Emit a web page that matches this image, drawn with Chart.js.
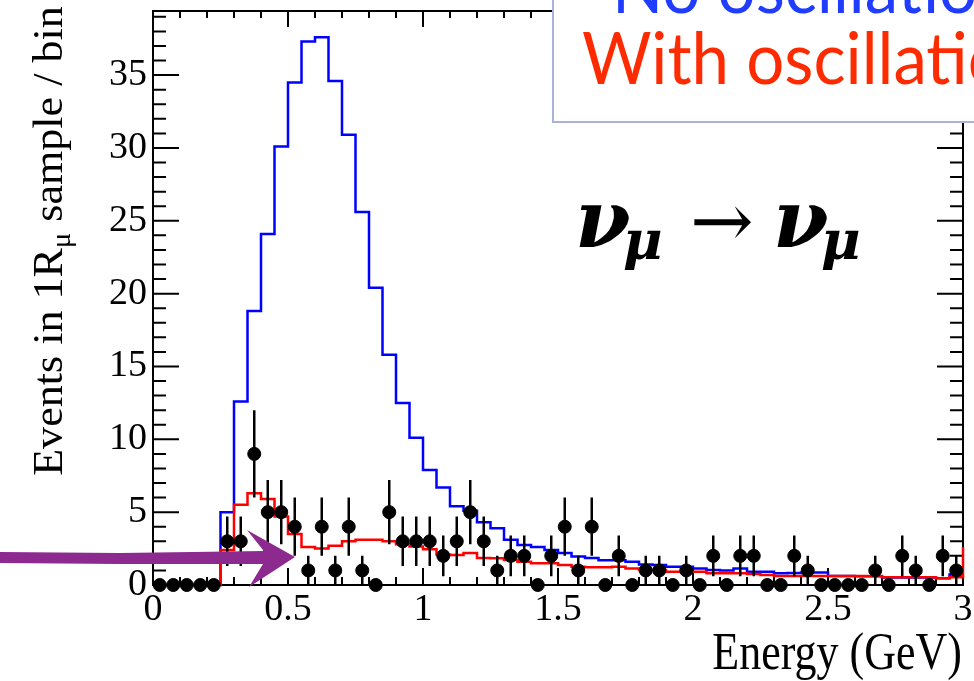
<!DOCTYPE html>
<html>
<head>
<meta charset="utf-8">
<script src="https://cdn.jsdelivr.net/npm/chart.js@4.4.1/dist/chart.umd.min.js"></script>
<style>
  html, body { margin: 0; padding: 0; background: #fff; }
  #wrap { width: 974px; height: 681px; }
</style>
</head>
<body>
<div id="wrap"><canvas id="chart" width="974" height="681"></canvas></div>
<script>
// bins of 0.05 GeV, left edges
const binLow = [0.00, 0.05, 0.10, 0.15, 0.20, 0.25, 0.30, 0.35, 0.40, 0.45,
  0.50, 0.55, 0.60, 0.65, 0.70, 0.75, 0.80, 0.85, 0.90, 0.95,
  1.00, 1.05, 1.10, 1.15, 1.20, 1.25, 1.30, 1.35, 1.40, 1.45,
  1.50, 1.55, 1.60, 1.65, 1.70, 1.75, 1.80, 1.85, 1.90, 1.95,
  2.00, 2.05, 2.10, 2.15, 2.20, 2.25, 2.30, 2.35, 2.40, 2.45,
  2.50, 2.55, 2.60, 2.65, 2.70, 2.75, 2.80, 2.85, 2.90, 2.95];
const binHigh = 3.0;

// expectation without oscillation (blue)
const noOsc = [0, 0, 0, 0, 0, 5.0, 12.6, 18.8, 24.1, 30.1,
  34.5, 37.3, 37.6, 34.6, 30.9, 25.6, 20.4, 15.8, 12.5, 10.1,
  7.9, 6.7, 5.4, 5.1, 4.3, 3.9, 3.1, 2.75, 2.6, 2.4,
  2.2, 1.95, 1.85, 1.7, 1.7, 1.6, 1.4, 1.37, 1.26, 1.26,
  1.14, 1.03, 1.0, 1.14, 0.91, 0.91, 0.8, 0.82, 0.85, 0.85,
  0.62, 0.62, 0.6, 0.6, 0.52, 0.52, 0.52, 0.52, 0.46, 0.72];

// expectation with oscillation (red)
const withOsc = [0, 0, 0, 0, 0, 2.4, 5.5, 6.3, 5.9, 4.7,
  3.5, 2.6, 2.5, 2.7, 3.0, 3.1, 3.1, 3.0, 2.8, 2.65,
  2.45, 2.1, 2.06, 2.2, 1.85, 1.83, 1.71, 1.6, 1.5, 1.5,
  1.37, 1.26, 1.21, 1.21, 1.26, 1.14, 1.03, 1.03, 0.91, 0.91,
  0.91, 0.8, 0.8, 0.8, 0.76, 0.69, 0.62, 0.62, 0.62, 0.62,
  0.62, 0.62, 0.62, 0.62, 0.53, 0.53, 0.53, 0.53, 0.46, 0.53];
const withOscOverflow = 2.6;

// observed events per bin and their error bars
const dataCounts = [0, 0, 0, 0, 0, 3, 3, 9, 5, 5,
  4, 1, 4, 1, 4, 1, 0, 5, 3, 3,
  3, 2, 3, 5, 3, 1, 2, 2, 0, 2,
  4, 1, 4, 0, 2, 0, 1, 1, 0, 1,
  0, 2, 0, 2, 2, 0, 0, 2, 1, 0,
  0, 0, 0, 1, 0, 2, 1, 0, 2, 1];
const dataErr = [0, 0, 0, 0, 0, 1.7, 1.7, 3.0, 2.2, 2.2,
  2.0, 1.0, 2.0, 1.0, 2.0, 1.0, 0, 2.2, 1.7, 1.7,
  1.7, 1.4, 1.7, 2.2, 1.7, 1.0, 1.4, 1.4, 0, 1.4,
  2.0, 1.0, 2.0, 0, 1.4, 0, 1.0, 1.0, 0, 1.0,
  0, 1.4, 0, 1.4, 1.4, 0, 0, 1.4, 1.0, 0,
  0, 0, 0, 1.0, 0, 1.4, 1.0, 0, 1.4, 1.0];

const xTicks = [0, 0.5, 1, 1.5, 2, 2.5, 3];
const xTickLabels = ['0', '0.5', '1', '1.5', '2', '2.5', '3'];
const yTicks = [0, 5, 10, 15, 20, 25, 30, 35];
const yTickLabels = ['0', '5', '10', '15', '20', '25', '30', '35'];
const legendLabels = ['No oscillation', 'With oscillation'];

function histPoints(vals, lastY) {
  const pts = binLow.map((x, i) => ({ x: x, y: vals[i] }));
  pts.push({ x: binHigh, y: lastY });
  return pts;
}
const dataPoints = binLow.map((x, i) => ({
  x: (x + (i + 1 < binLow.length ? binLow[i + 1] : binHigh)) / 2,
  y: dataCounts[i]
}));

// box + inward ticks, drawn under the histograms
const frame = {
  id: 'frame',
  beforeDatasetsDraw(chart) {
    const { ctx, chartArea: a, scales: { x, y } } = chart;
    ctx.save();
    ctx.strokeStyle = '#000';
    ctx.lineWidth = 2;
    ctx.strokeRect(a.left, a.top, a.right - a.left, a.bottom - a.top);
    ctx.beginPath();
    for (let i = 0; i <= 39; i++) {
      const py = y.getPixelForValue(i);
      const len = i % 5 === 0 ? 26 : 13;
      ctx.moveTo(a.left, py); ctx.lineTo(a.left + len, py);
      ctx.moveTo(a.right, py); ctx.lineTo(a.right - len, py);
    }
    for (let i = 0; i <= 30; i++) {
      const px = x.getPixelForValue(i / 10);
      const major = i % 5 === 0;
      ctx.moveTo(px, a.bottom); ctx.lineTo(px, a.bottom - (major ? 17 : 8));
      ctx.moveTo(px, a.top); ctx.lineTo(px, a.top + (major ? 16 : 7));
    }
    ctx.stroke();
    ctx.restore();
  }
};

// error bars on the data points
const errorBars = {
  id: 'errorBars',
  afterDatasetsDraw(chart) {
    const { ctx, scales: { x, y } } = chart;
    ctx.save();
    ctx.strokeStyle = '#000';
    ctx.lineWidth = 2.5;
    ctx.beginPath();
    dataPoints.forEach((p, i) => {
      if (!dataErr[i]) return;
      const px = x.getPixelForValue(p.x);
      ctx.moveTo(px, y.getPixelForValue(p.y + dataErr[i]));
      ctx.lineTo(px, y.getPixelForValue(p.y - dataErr[i]));
    });
    ctx.stroke();
    ctx.restore();
  }
};

// titles, legend box, annotation and the purple arrow
const decorations = {
  id: 'decorations',
  afterDraw(chart) {
    const ctx = chart.ctx;
    ctx.save();

    // y title, rotated, with subscript mu
    ctx.save();
    ctx.translate(62, 241);
    ctx.rotate(-Math.PI / 2);
    ctx.scale(1.05, 1);
    ctx.fillStyle = '#000';
    ctx.textBaseline = 'alphabetic';
    const big = '42px "Liberation Serif"', small = '27px "Liberation Serif"';
    const parts = [['Events in 1R', big, 0], ['\u03bc', small, 8], [' sample / bin', big, 0]];
    let total = 0;
    parts.forEach(p => { ctx.font = p[1]; p.push(ctx.measureText(p[0]).width); total += p[3]; });
    let cx = -total / 2;
    parts.forEach(p => { ctx.font = p[1]; ctx.fillText(p[0], cx, p[2]); cx += p[3]; });
    ctx.restore();

    // x title
    ctx.save();
    ctx.translate(962, 669);
    ctx.scale(1, 1.2);
    ctx.font = '44px "Liberation Serif"';
    ctx.fillStyle = '#000';
    ctx.textAlign = 'right';
    ctx.fillText('Energy (GeV)', 0, 0);
    ctx.restore();

    // legend box
    ctx.fillStyle = '#fff';
    ctx.fillRect(553, -10, 440, 132);
    ctx.strokeStyle = '#aab2d6';
    ctx.lineWidth = 2;
    ctx.strokeRect(553, -10, 440, 132);
    ctx.textBaseline = 'alphabetic';
    ctx.save();
    ctx.translate(0, 0);
    ctx.scale(0.96, 1.02);
    ctx.font = '70px Lato';
    ctx.fillStyle = '#1f3cff';
    ctx.fillText(legendLabels[0], 612 / 0.96, 13 / 1.02);
    ctx.fillStyle = '#ff2b00';
    ctx.fillText(legendLabels[1], 582 / 0.96, 84 / 1.02);
    ctx.restore();

    // nu_mu -> nu_mu
    ctx.fillStyle = '#000';
    ctx.font = 'bold italic 80px "DejaVu Serif"';
    ctx.fillText('\u03bd', 575, 247);
    ctx.fillText('\u03bd', 773, 247);
    ctx.font = 'bold italic 54px "DejaVu Serif"';
    ctx.fillText('\u03bc', 623, 259);
    ctx.fillText('\u03bc', 821, 259);
    ctx.font = '76px "DejaVu Serif"';
    ctx.fillText('\u2192', 690, 247);

    // purple hand-drawn arrow
    ctx.fillStyle = '#8c2a8f';
    ctx.beginPath();
    ctx.moveTo(0, 552); ctx.lineTo(120, 553); ctx.lineTo(264, 551);
    ctx.lineTo(264, 564); ctx.lineTo(120, 564); ctx.lineTo(0, 563);
    ctx.closePath();
    ctx.fill();
    ctx.beginPath();
    ctx.moveTo(247, 530); ctx.lineTo(295, 557); ctx.lineTo(249, 587);
    ctx.lineTo(263, 564); ctx.lineTo(263, 550);
    ctx.closePath();
    ctx.fill();

    ctx.restore();
  }
};

new Chart(document.getElementById('chart'), {
  type: 'scatter',
  data: {
    datasets: [
      {
        label: 'Data',
        data: dataPoints,
        pointRadius: 6.5,
        pointHoverRadius: 6.5,
        backgroundColor: '#000',
        borderColor: '#000',
        clip: false,
        order: 0
      },
      {
        label: legendLabels[1],
        data: histPoints(withOsc, withOscOverflow),
        showLine: true,
        stepped: true,
        borderColor: '#ff0000',
        borderWidth: 2.5,
        pointRadius: 0,
        clip: false,
        order: 1
      },
      {
        label: legendLabels[0],
        data: histPoints(noOsc, noOsc[noOsc.length - 1]),
        showLine: true,
        stepped: true,
        borderColor: '#0000ff',
        borderWidth: 2.5,
        pointRadius: 0,
        clip: false,
        order: 2
      }
    ]
  },
  options: {
    responsive: false,
    animation: false,
    devicePixelRatio: 1,
    layout: { padding: { top: 11, right: 11, left: 0, bottom: 0 } },
    plugins: { legend: { display: false }, tooltip: { enabled: false } },
    scales: {
      x: {
        type: 'linear',
        min: 0,
        max: 3,
        grid: { display: false, drawTicks: false },
        border: { display: false },
        afterBuildTicks: s => { s.ticks = xTicks.map(v => ({ value: v })); },
        afterFit: s => { s.height = 96; s.paddingLeft = 0; s.paddingRight = 0; },
        ticks: {
          autoSkip: false,
          maxRotation: 0,
          padding: 2,
          color: '#000',
          font: { family: 'Liberation Serif', size: 38 },
          callback: (v, i) => xTickLabels[i]
        }
      },
      y: {
        min: 0,
        max: 39.4,
        grid: { display: false, drawTicks: false },
        border: { display: false },
        afterBuildTicks: s => { s.ticks = yTicks.map(v => ({ value: v })); },
        afterFit: s => { s.width = 153; s.paddingTop = 0; s.paddingBottom = 0; },
        ticks: {
          padding: 6,
          color: '#000',
          font: { family: 'Liberation Serif', size: 38 },
          callback: (v, i) => yTickLabels[i]
        }
      }
    }
  },
  plugins: [frame, errorBars, decorations]
});
</script>
</body>
</html>
